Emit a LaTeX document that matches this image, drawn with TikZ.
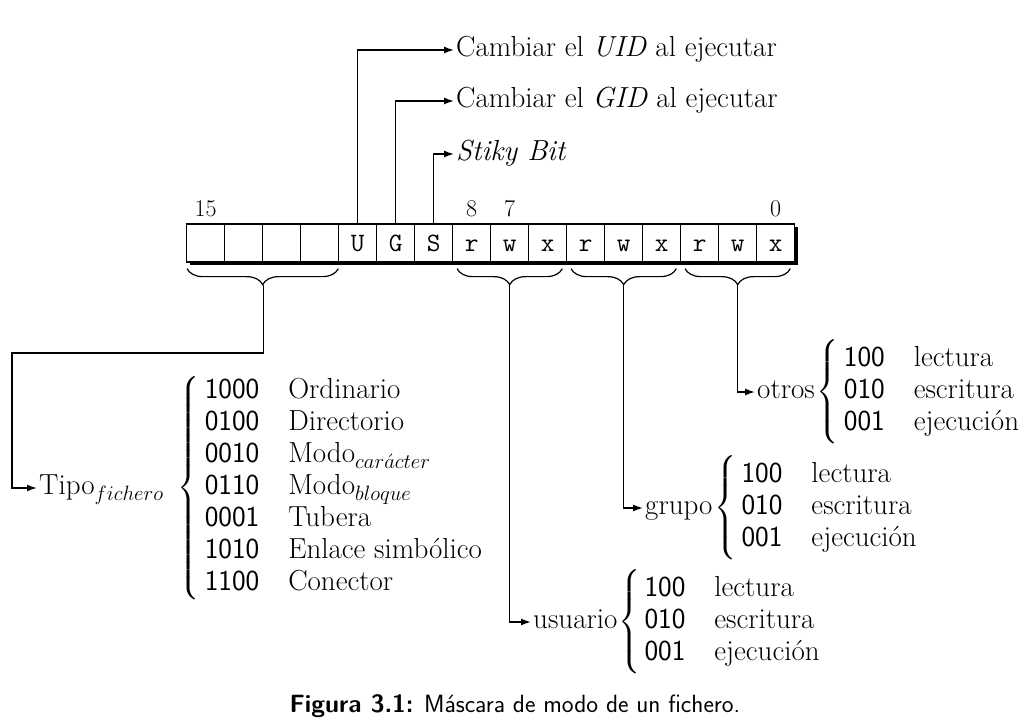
\documentclass[tikz,border=0pt]{standalone}
\usepackage{fontspec}
\usepackage{amsmath}
\usetikzlibrary{arrows.meta,decorations.pathreplacing,calc}
\begin{document}
\begin{tikzpicture}[x=1pt,y=-1pt,
  every node/.style={font=\fontsize{29}{32}\selectfont},
  cell/.style={draw, fill=white, line width=1.3pt, minimum width=38pt, minimum height=38pt,
    inner sep=0pt, text height=18.4pt, text depth=1pt, font=\fontsize{26.5}{29}\selectfont\ttfamily},
  bitnum/.style={inner sep=0pt, anchor=base, font=\fontsize{24}{28}\selectfont},
  arr/.style={line width=1.4pt, -{Latex[length=10pt,width=7pt]}},
  brc/.style={line width=1.2pt, decorate, decoration={brace, mirror, amplitude=16pt}},
  lab/.style={anchor=west, inner sep=2pt, text height=18pt, text depth=5.6pt},
  grp/.style={anchor=west, inner sep=2pt},
  captxt/.style={anchor=base, inner sep=0pt, font=\fontsize{25}{29}\selectfont\sffamily},
]
\fill[white] (0,0) rectangle (1021,719);
\path[use as bounding box] (0,0) rectangle (1021,719);

% shadow of the register
\fill[black] (189.7,227) rectangle (797.7,265.5);
% cells
\foreach \l [count=\i from 0] in {{},{},{},{},U,G,S,r,w,x,r,w,x,r,w,x}
  \node[cell] (c\i) at ({186.7+38*\i+19},243) {\l};

% bit numbers
\node[bitnum] (n15) at ($(c0.north)+(0,-7)$) {15};
\node[bitnum] (n8) at ($(c7.north)+(0,-7)$) {8};
\node[bitnum] (n7) at ($(c8.north)+(0,-7)$) {7};
\node[bitnum] (n0) at ($(c15.north)+(0,-7)$) {0};

% top labels
\node[lab] (uid) at (454,50) {Cambiar el \textit{UID} al ejecutar};
\node[lab] (gid) at (454,101) {Cambiar el \textit{GID} al ejecutar};
\node[lab] (sticky) at (454,154) {\textit{Stiky Bit}};
\draw[arr] (c4.north) |- (uid.west);
\draw[arr] (c5.north) |- (gid.west);
\draw[arr] (c6.north) |- (sticky.west);

% braces below the register
\draw[brc] ($(c0.south west)+(1,6)$) -- ($(c3.south east)+(-1,6)$);
\draw[brc] ($(c7.south west)+(5,6)$) -- ($(c9.south east)+(-5,6)$);
\draw[brc] ($(c10.south west)+(5,6)$) -- ($(c12.south east)+(-5,6)$);
\draw[brc] ($(c13.south west)+(5,6)$) -- ($(c15.south east)+(-5,6)$);
\coordinate (t1) at ($(c1.south east)+(0,22)$);
\coordinate (t2) at ($(c8.south)+(0,22)$);
\coordinate (t3) at ($(c11.south)+(0,22)$);
\coordinate (t4) at ($(c14.south)+(0,22)$);

% file type
\node[grp] (tipo) at (37,488) {Tipo$_{fichero}$\hspace{14pt}$\left\{\begin{tabular}{@{\hspace{5pt}}l@{\hspace{29pt}}l@{}}
\textsf{1000} & Ordinario\\
\textsf{0100} & Directorio\\
\textsf{0010} & Modo$_{car\acute{a}cter}$\\
\textsf{0110} & Modo$_{bloque}$\\
\textsf{0001} & Tubera\\
\textsf{1010} & Enlace simbólico\\
\textsf{1100} & Conector
\end{tabular}\right.$};
\coordinate (k1) at (12,353);
\draw[arr] (t1) |- (k1) |- (tipo.west);

% permissions
\node[grp] (usu) at (531,622) {usuario\hspace{1pt}$\left\{\begin{tabular}{@{\hspace{4pt}}l@{\hspace{29pt}}l@{}}
\textsf{100} & lectura\\
\textsf{010} & escritura\\
\textsf{001} & ejecución
\end{tabular}\right.$};
\node[grp] (gru) at (643,508) {grupo\hspace{2pt}$\left\{\begin{tabular}{@{\hspace{5pt}}l@{\hspace{29pt}}l@{}}
\textsf{100} & lectura\\
\textsf{010} & escritura\\
\textsf{001} & ejecución
\end{tabular}\right.$};
\node[grp] (otr) at (755,392) {otros\hspace{2pt}$\left\{\begin{tabular}{@{\hspace{5pt}}l@{\hspace{29pt}}l@{}}
\textsf{100} & lectura\\
\textsf{010} & escritura\\
\textsf{001} & ejecución
\end{tabular}\right.$};
\draw[arr] (t2) |- (usu.west);
\draw[arr] (t3) |- (gru.west);
\draw[arr] (t4) |- (otr.west);

% caption
\node[captxt] (cap) at (515,712) {\textbf{Figura 3.1:} Máscara de modo de un fichero.};
\end{tikzpicture}
\end{document}
